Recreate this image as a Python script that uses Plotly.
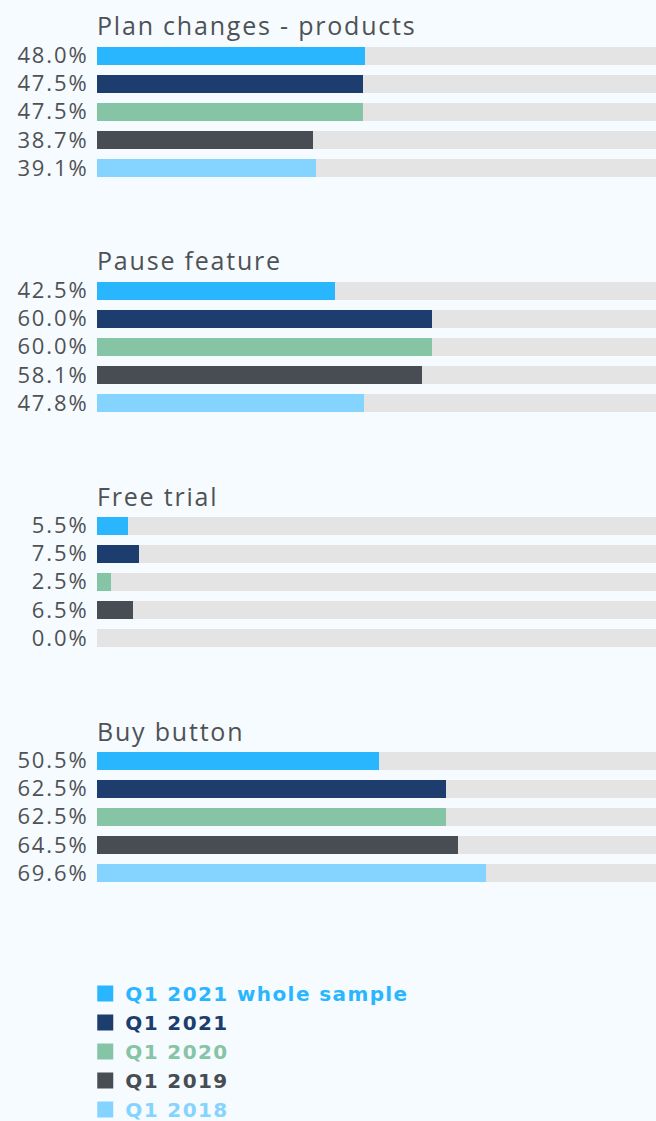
import plotly.graph_objects as go

# data
panels = ["Plan changes - products", "Pause feature", "Free trial", "Buy button"]
series = ["Q1 2021 whole sample", "Q1 2021", "Q1 2020", "Q1 2019", "Q1 2018"]
plan_changes = [48.0, 47.5, 47.5, 38.7, 39.1]
pause_feature = [42.5, 60.0, 60.0, 58.1, 47.8]
free_trial = [5.5, 7.5, 2.5, 6.5, 0.0]
buy_button = [50.5, 62.5, 62.5, 64.5, 69.6]
panel_values = [plan_changes, pause_feature, free_trial, buy_button]

COLORS = ["#29B6FF", "#1C3D6E", "#85C4A4", "#474D52", "#85D4FF"]
TRACK = "#E4E4E4"
BG = "#F6FBFF"
TEXT = "#4F5254"
FONT = "Open Sans"

W, H = 656, 1121
PANEL_STEP = 235
PANEL_TOP = 41.5       # px, top of first panel's y-range
PANEL_HEIGHT = 140.5   # px, 5 rows


def spaced(s, px=0.6):
    return f"<span style='letter-spacing:{px}px'>{s}</span>"


fig = go.Figure()
annotations = []
layout_axes = {}

for p, (title, vals) in enumerate(zip(panels, panel_values)):
    idx = "" if p == 0 else str(p + 1)
    xa, ya = "x" + idx, "y" + idx
    rows = list(range(len(series)))

    # grey 100% track
    fig.add_trace(go.Bar(
        x=[100] * len(rows), y=rows, orientation="h",
        marker=dict(color=TRACK, line=dict(width=0)),
        width=0.64, showlegend=False, hoverinfo="skip",
        xaxis=xa, yaxis=ya,
    ))
    for s, name in enumerate(series):
        fig.add_trace(go.Bar(
            x=[vals[s]], y=[s], orientation="h",
            marker=dict(color=COLORS[s], line=dict(width=0)),
            width=0.64, name=name, showlegend=False,
            xaxis=xa, yaxis=ya,
        ))

    top_px = PANEL_TOP + p * PANEL_STEP
    bot_px = top_px + PANEL_HEIGHT
    dom = [1 - bot_px / H, 1 - top_px / H]

    layout_axes["xaxis" + idx] = dict(
        domain=[0, 1], range=[0, 100], visible=False, fixedrange=True,
        anchor=ya,
    )
    layout_axes["yaxis" + idx] = dict(
        domain=dom, range=[4.5, -0.5], anchor=xa,
        tickvals=rows, ticktext=[spaced(f"{v:.1f}%", 1.9) for v in vals],
        tickfont=dict(family=FONT, size=22, color=TEXT),
        ticks="outside", ticklen=3, tickcolor="rgba(0,0,0,0)",
        showgrid=False, zeroline=False, showline=False,
    )
    annotations.append(dict(
        text=spaced(title, 1.8), xref="paper", yref="paper", x=0, y=dom[1],
        xanchor="left", yanchor="bottom", showarrow=False, yshift=-3, xshift=-2,
        font=dict(family=FONT, size=25, color=TEXT),
    ))

# legend entries (square markers, coloured bold labels)
for s, name in enumerate(series):
    fig.add_trace(go.Scatter(
        x=[None], y=[None], mode="markers",
        marker=dict(symbol="square", size=18, color=COLORS[s]),
        name=f"<b><span style='color:{COLORS[s]};letter-spacing:1.4px'>{name}</span></b>",
        showlegend=True,
    ))

fig.update_layout(
    width=W, height=H,
    margin=dict(l=97, r=0, t=0, b=0, autoexpand=False),
    paper_bgcolor=BG, plot_bgcolor=BG,
    barmode="overlay", bargap=0,
    annotations=annotations,
    legend=dict(
        x=-0.021, y=1 - 974 / H, xanchor="left", yanchor="top",
        font=dict(family="DejaVu Sans", size=20), bgcolor="rgba(0,0,0,0)",
        traceorder="normal", itemwidth=30, itemsizing="trace",
    ),
    **layout_axes,
)

fig.write_html(
    "out.html",
    config={"displayModeBar": False},
    post_script=f"document.body.style.margin='0';document.body.style.background='{BG}';",
)
